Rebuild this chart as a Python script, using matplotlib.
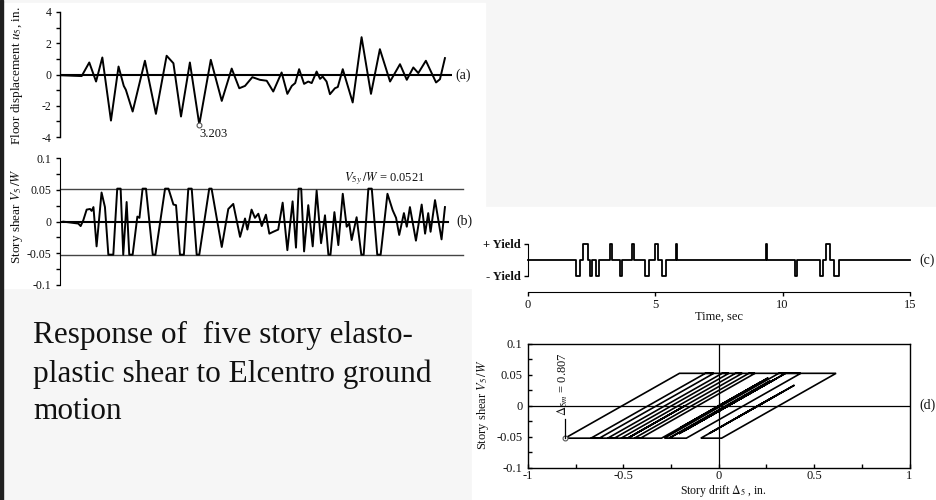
import matplotlib
matplotlib.use("Agg")
import matplotlib.pyplot as plt
from matplotlib.patches import Rectangle
from matplotlib.ticker import MultipleLocator

plt.rcParams['font.family'] = ['Liberation Serif', 'DejaVu Serif']
plt.rcParams['mathtext.fontset'] = 'stix'

# ---------------- data ----------------
# (a) floor displacement u5 (in.) vs time (s)
disp_t = [0.06, 0.5, 0.83, 1.12, 1.38, 1.62, 1.95, 2.24, 2.44, 2.52, 2.78, 3.25, 3.67, 4.08,
          4.34, 4.63, 4.97, 5.33, 5.77, 6.19, 6.57, 6.86, 7.08, 7.36, 7.65, 7.91, 8.16, 8.48,
          8.70, 8.87, 9.0, 9.15, 9.34, 9.50, 9.63, 9.82, 9.95, 10.05, 10.2, 10.33, 10.52,
          10.63, 10.82, 11.2, 11.54, 11.9, 12.24, 12.63, 13.01, 13.27, 13.52, 13.71, 14.0,
          14.39, 14.54, 14.73]
disp_u = [-0.05, -0.08, -0.1, 0.77, -0.45, 1.09, -2.95, 0.51, -0.73, -0.98, -2.37, 0.88, -2.52,
          1.2, 0.72, -2.69, 0.77, -3.203, 0.94, -1.69, 0.38, -0.88, -0.73, -0.17, -0.34, -0.4,
          -1.09, 0.13, -1.24, -0.73, -0.55, 0.34, -0.6, -0.45, -0.55, 0.19, -0.28, -0.13, -0.45,
          -1.26, -0.88, -0.8, 0.34, -1.79, 2.39, -1.24, 1.62, -0.45, 0.66, -0.34, 0.45, 0.09,
          0.88, -0.51, -0.3, 1.05]
disp_peak_t = 5.33
disp_peak_u = -3.203

# (b) story shear V5/W vs time
shear_yield = 0.0521
shear_t = [0.13, 0.70, 0.79, 0.89, 1.02, 1.15, 1.21, 1.28, 1.40, 1.59, 1.72, 1.85, 2.04, 2.19,
           2.32, 2.42, 2.55, 2.65, 2.78, 2.96, 3.04, 3.16, 3.29, 3.55, 3.65, 4.02, 4.15, 4.34,
           4.44, 4.59, 4.74, 4.91, 5.04, 5.23, 5.33, 5.71, 5.80, 6.19, 6.44, 6.63, 6.89, 7.08,
           7.17, 7.33, 7.46, 7.59, 7.72, 7.88, 8.01, 8.16, 8.35, 8.52, 8.70, 8.90, 9.03, 9.13,
           9.23, 9.34, 9.50, 9.67, 9.82, 9.99, 10.14, 10.27, 10.35, 10.50, 10.65, 10.82, 10.97,
           11.07, 11.16, 11.35, 11.53, 11.62, 11.80, 11.93, 12.14, 12.27, 12.53, 12.73, 12.86,
           12.98, 13.16, 13.27, 13.39, 13.62, 13.84, 13.97, 14.09, 14.18, 14.35, 14.60, 14.73]
shear_v = [0.0, -0.003, -0.007, 0.002, 0.019, 0.020, 0.017, 0.023, -0.039, 0.046, 0.023,
           -0.0521, -0.0521, 0.0521, 0.0521, -0.0521, 0.031, -0.0521, -0.0521, 0.008, 0.006,
           0.0521, 0.0521, -0.0521, -0.0521, 0.0521, 0.0521, 0.027, 0.026, -0.0521, -0.0521,
           0.0521, 0.0521, -0.0521, -0.0521, 0.0521, 0.0521, -0.040, 0.020, 0.028, -0.024,
           0.005, -0.0125, 0.019, 0.006, 0.0125, -0.007, 0.011, -0.019, -0.016, -0.0125, 0.030,
           -0.045, 0.032, -0.041, 0.0521, 0.0521, -0.047, 0.026, -0.039, 0.049, -0.034, 0.010,
           -0.0521, -0.0521, 0.015, -0.037, 0.044, -0.008, -0.003, -0.029, 0.007, -0.0521,
           -0.0521, 0.0521, 0.0521, -0.0521, -0.0521, 0.044, 0.018, 0.006, -0.021, 0.0135,
           -0.008, 0.023, -0.030, 0.027, -0.019, 0.0135, -0.016, 0.034, -0.028, 0.023]

# (c) yielding intervals (s) and direction (+1 / -1)
yield_start = [1.89, 2.17, 2.44, 2.67, 3.23, 3.62, 4.10, 4.60, 4.97, 5.27, 5.80, 9.33, 10.50,
               11.45, 11.70, 12.00]
yield_end = [2.05, 2.36, 2.50, 2.80, 3.30, 3.70, 4.15, 4.76, 5.12, 5.43, 5.85, 9.38, 10.58,
             11.57, 11.85, 12.20]
yield_sign = [-1, 1, -1, -1, 1, -1, 1, -1, 1, -1, 1, 1, -1, -1, 1, -1]
time_end = 15.0

# (d) force-deformation path: story drift (in.) and V5/W
drift = [0.0, 0.22, -0.2, 0.26, -0.3, -0.442, 0.158, 0.19, -0.41, -0.477, -0.177, -0.477,
         -0.512, 0.088, 0.123, -0.477, -0.582, 0.018, 0.053, -0.547, -0.67, -0.07, -0.026,
         -0.626, -0.806, -0.206, 0.35, -0.1, 0.25, -0.18, 0.30, -0.209, 0.35, 0.43, -0.17,
         -0.26, 0.27, -0.26, -0.285, 0.315, 0.615, 0.015, -0.094, 0.397, -0.05, 0.298, 0.102,
         0.333]
story_shear = [0.0, 0.038, -0.035, 0.045, -0.0521, -0.0521, 0.0521, 0.0521, -0.0521, -0.0521,
               0.0, -0.0521, -0.0521, 0.0521, 0.0521, -0.0521, -0.0521, 0.0521, 0.0521, -0.0521,
               -0.0521, 0.0521, 0.0521, -0.0521, -0.0521, 0.0521, 0.0521, -0.026, 0.035, -0.040,
               0.0434, -0.045, 0.0521, 0.0521, -0.0521, -0.0521, 0.040, -0.0521, -0.0521,
               0.0521, 0.0521, -0.0521, -0.0521, 0.0331, -0.0445, 0.016, -0.018, 0.022]
drift_max = -0.807

# ---------------- figure ----------------
W, H = 936, 500
fig = plt.figure(figsize=(W / 100, H / 100), dpi=100)
fig.patch.set_facecolor('#f6f6f6')


def fx(x):
    return x / W


def fy(y):
    return 1 - y / H


def ax_px(x0, y0, x1, y1):
    return fig.add_axes([fx(x0), fy(y1), (x1 - x0) / W, (y1 - y0) / H])


# white picture areas and slide edge
fig.add_artist(Rectangle((fx(3), fy(288)), (485 - 3) / W, (288 - 3) / H,
                         transform=fig.transFigure, color='white', zorder=0))
fig.add_artist(Rectangle((fx(472), fy(500)), (W - 472) / W, (500 - 207) / H,
                         transform=fig.transFigure, color='white', zorder=0))
fig.add_artist(Rectangle((0, 0), 3 / W, 1, transform=fig.transFigure,
                         color='#202020', zorder=1))

TXT = '#111111'
FS = 8.5

# ---- (a) ----
ax = ax_px(60, 12, 452, 137)
ax.set_facecolor('none')
ax.set_xlim(0, 15)
ax.set_ylim(-4, 4)
for s in ('top', 'right', 'bottom'):
    ax.spines[s].set_visible(False)
ax.spines['left'].set_linewidth(1.0)
ax.set_xticks([])
ax.set_yticks([-4, -2, 0, 2, 4])
ax.set_yticklabels(['-4', '-2', '0', '2', '4'])
ax.yaxis.set_minor_locator(MultipleLocator(1))
ax.tick_params(axis='y', which='both', direction='out', length=3, width=1.0,
               labelsize=FS, labelcolor=TXT, pad=3)
ax.axhline(0, color='black', lw=1.5)
ax.plot(disp_t, disp_u, color='black', lw=1.4, solid_joinstyle='round')
ax.plot([disp_peak_t], [disp_peak_u], 'o', ms=3.5, mfc='white', mec='#555555', mew=0.8)
ax.text(disp_peak_t, -3.78, f"{abs(disp_peak_u):.3f}", ha='left', va='center',
        fontsize=9, color=TXT)
fig.text(fx(455), fy(75), '(a)', fontsize=10, color=TXT, va='center', ha='left')
fig.text(fx(17), fy(76), r'Floor displacement $u_5$, in.', rotation=90, fontsize=9.5,
         color=TXT, ha='center', va='center')

# ---- (b) ----
ax = ax_px(60, 158.3, 452, 285)
ax.set_facecolor('none')
ax.set_xlim(0, 15)
ax.set_ylim(-0.1, 0.1)
for s in ('top', 'right', 'bottom'):
    ax.spines[s].set_visible(False)
ax.set_xticks([])
ax.set_yticks([-0.1, -0.05, 0, 0.05, 0.1])
ax.set_yticklabels(['-0.1', '-0.05', '0', '0.05', '0.1'])
ax.yaxis.set_minor_locator(MultipleLocator(0.025))
ax.tick_params(axis='y', which='both', direction='out', length=3, width=1.0,
               labelsize=FS, labelcolor=TXT, pad=3)
for yv in (shear_yield, -shear_yield):
    ax.axhline(yv, xmin=0, xmax=1.028, color='#444444', lw=1.0, clip_on=False)
ax.axhline(0, xmax=0.99, color='black', lw=1.5)
ax.plot(shear_t, shear_v, color='black', lw=1.4, solid_joinstyle='round')
ax.text(10.85, 0.068, r'$V_{5y}\,/W$ = ' + f'{shear_yield}', fontsize=9, color=TXT,
        ha='left', va='center')
fig.text(fx(456), fy(221), '(b)', fontsize=10, color=TXT, va='center', ha='left')
fig.text(fx(17), fy(216), r'Story shear $V_5\,/W$', rotation=90, fontsize=9.5,
         color=TXT, ha='center', va='center')

# ---- (c) ----
ax = ax_px(528, 244, 910, 292)
ax.set_facecolor('none')
ax.set_xlim(0, 15)
ax.set_ylim(-2, 1)
ax.spines['top'].set_visible(False)
ax.spines['right'].set_visible(False)
ax.spines['left'].set_bounds(-1, 1)
ax.set_yticks([1, -1])
ax.set_yticklabels(['+ Yield', '- Yield'], fontweight='bold')
ax.set_xticks([0, 5, 10, 15])
ax.set_xticklabels(['0', '5', '10', '15'])
ax.tick_params(axis='both', direction='out', length=3, width=1.0, labelsize=9,
               labelcolor=TXT, pad=2)
cx, cy = [0.0], [0.0]
for s0, s1, sg in zip(yield_start, yield_end, yield_sign):
    cx += [s0, s0, s1, s1]
    cy += [0, sg, sg, 0]
cx.append(time_end)
cy.append(0)
ax.plot(cx, cy, color='black', lw=1.3, clip_on=False)
fig.text(fx(719), fy(317), 'Time, sec', fontsize=9, color=TXT, ha='center', va='center')
fig.text(fx(919), fy(260), '(c)', fontsize=10, color=TXT, va='center', ha='left')

# ---- (d) ----
ax = ax_px(528, 343.5, 909.5, 468)
ax.set_facecolor('none')
ax.set_xlim(-1, 1)
ax.set_ylim(-0.1, 0.1)
for s in ax.spines.values():
    s.set_linewidth(1.0)
ax.set_xticks([-1, -0.5, 0, 0.5, 1])
ax.set_xticklabels(['-1', '-0.5', '0', '0.5', '1'])
ax.xaxis.set_minor_locator(MultipleLocator(0.25))
ax.set_yticks([-0.1, -0.05, 0, 0.05, 0.1])
ax.set_yticklabels(['-0.1', '-0.05', '0', '0.05', '0.1'])
ax.yaxis.set_minor_locator(MultipleLocator(0.025))
ax.tick_params(axis='both', which='both', direction='in', length=3, width=1.0,
               labelsize=9, labelcolor=TXT)
ax.tick_params(axis='x', pad=1.5)
ax.tick_params(axis='y', pad=4)
ax.axhline(0, color='black', lw=0.9)
ax.axvline(0, color='black', lw=0.9)
ax.plot(drift, story_shear, color='black', lw=1.2, solid_joinstyle='miter')
ax.plot([drift_max], [-shear_yield], 'o', ms=3.5, mfc='white', mec='#555555', mew=0.8)
ax.plot([drift_max, drift_max], [-shear_yield, -0.021], color='black', lw=0.9)
ax.text(drift_max - 0.012, -0.017, r'$\Delta_{5m}$ = ' + f'{abs(drift_max):.3f}',
        rotation=90, fontsize=9, color=TXT, ha='center', va='bottom')
fig.text(fx(723), fy(494), r'Story drift $\Delta_5$ , in.', fontsize=8.5, color=TXT,
         ha='center', va='baseline')
fig.text(fx(483), fy(405), r'Story shear $V_5\,/W$', rotation=90, fontsize=9,
         color=TXT, ha='center', va='center')
fig.text(fx(919), fy(405), '(d)', fontsize=10, color=TXT, va='center', ha='left')

# ---- caption ----
caption = ["Response of  five story elasto-", "plastic shear to Elcentro ground", "motion"]
for line, yb in zip(caption, [343, 382, 419]):
    fig.text(fx(33), fy(yb), line, fontsize=22.5, color='#111111', ha='left',
             va='baseline')

fig.savefig('out.png', dpi=100, facecolor=fig.get_facecolor())
